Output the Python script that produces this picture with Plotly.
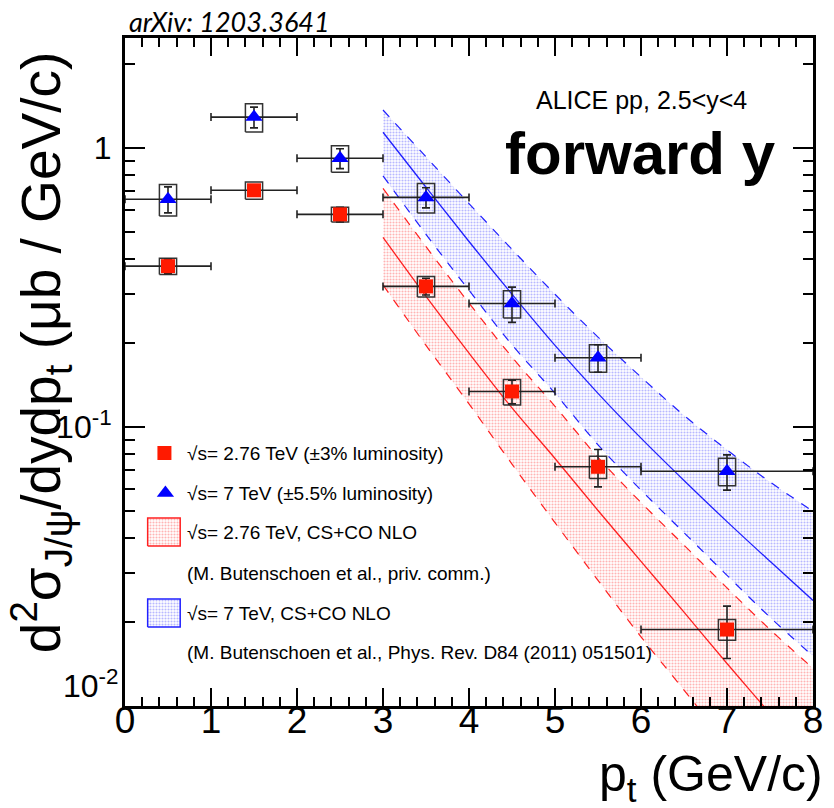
import numpy as np
import plotly.graph_objects as go

# ---------------- data ----------------
pt = [0.5, 1.5, 2.5, 3.5, 4.5, 5.5, 7.0]
pt_halfbin = [0.5, 0.5, 0.5, 0.5, 0.5, 0.5, 1.0]

red_y = [0.377, 0.705, 0.578, 0.319, 0.134, 0.072, 0.0188]
red_stat = [0.022, 0.03, 0.035, 0.022, 0.013, 0.011, 0.004]
red_syst = [0.025, 0.05, 0.035, 0.027, 0.014, 0.0066, 0.0016]

blue_y = [0.655, 1.29, 0.918, 0.665, 0.277, 0.177, 0.0694]
blue_stat = [0.07, 0.11, 0.075, 0.055, 0.04, 0.02, 0.010]
blue_syst = [0.085, 0.15, 0.10, 0.08, 0.031, 0.02, 0.0078]

th_pt = [3.0, 3.5, 4.0, 4.5, 5.0, 5.5, 6.0, 6.5, 7.0, 7.5, 8.0]
red_c = [0.478, 0.294, 0.184, 0.117, 0.0771, 0.0502, 0.0330, 0.0217, 0.0142, 0.0094, 0.0062]
red_hi = [0.716, 0.443, 0.278, 0.178, 0.1186, 0.0778, 0.0536, 0.0377, 0.0265, 0.0188, 0.01365]
red_lo = [0.323, 0.196, 0.121, 0.0736, 0.0454, 0.0282, 0.0177, 0.0114, 0.0073, 0.0047, 0.0031]
blue_c = [1.138, 0.723, 0.462, 0.299, 0.196, 0.132, 0.0912, 0.0643, 0.0458, 0.0330, 0.0239]
blue_hi = [1.368, 0.929, 0.632, 0.433, 0.299, 0.210, 0.151, 0.110, 0.0828, 0.0635, 0.0499]
blue_lo = [0.794, 0.490, 0.309, 0.197, 0.132, 0.0863, 0.0594, 0.0418, 0.0294, 0.0208, 0.0151]

x_ticks = [0, 1, 2, 3, 4, 5, 6, 7, 8]
y_ticks = [0.1, 1]
y_ticktext = ["10<sup>-1</sup>", "1"]

leg_labels = [
    "√s= 2.76 TeV (±3% luminosity)",
    "√s= 7 TeV (±5.5% luminosity)",
    "√s= 2.76 TeV, CS+CO NLO",
    "(M. Butenschoen et al., priv. comm.)",
    "√s= 7 TeV, CS+CO NLO",
    "(M. Butenschoen et al., Phys. Rev. D84 (2011) 051501)",
]

FONT = "Liberation Sans, Arial, sans-serif"
W, H = 834, 808
L, R, T, B = 125, 11, 38, 102
PW, PH = W - L - R, H - T - B

RED_DOT = "rgba(255,40,40,0.7)"
BLUE_DOT = "rgba(50,50,255,0.7)"


def px2paper(px, py):
    return (px - L) / PW, (H - B - py) / PH


fig = go.Figure()

# ---------------- theory bands ----------------
def band(lo, c, hi, col, dotcol):
    fig.add_trace(go.Scatter(x=th_pt, y=lo, mode="lines", line_shape="spline",
                             line=dict(color=col, width=1.2, dash="dash"),
                             showlegend=False, hoverinfo="skip"))
    fig.add_trace(go.Scatter(x=th_pt, y=hi, mode="lines", fill="tonexty", line_shape="spline",
                             fillcolor="rgba(255,255,255,0)",
                             fillpattern=dict(shape=".", fgcolor=dotcol, bgcolor="rgba(255,255,255,0)",
                                              size=3, solidity=0.4),
                             line=dict(color=col, width=1.2, dash="dash"),
                             showlegend=False, hoverinfo="skip"))
    fig.add_trace(go.Scatter(x=th_pt, y=c, mode="lines", line_shape="spline",
                             line=dict(color=col, width=1.3),
                             showlegend=False, hoverinfo="skip"))

band(red_lo, red_c, red_hi, "#ff2020", RED_DOT)
band(blue_lo, blue_c, blue_hi, "#2020ff", BLUE_DOT)

# ---------------- systematic boxes ----------------
BW = 0.1
def boxes(xs, ys, ss):
    bx, by = [], []
    for x, y, s in zip(xs, ys, ss):
        bx += [x - BW, x + BW, x + BW, x - BW, x - BW, None]
        by += [y - s, y - s, y + s, y + s, y - s, None]
    fig.add_trace(go.Scatter(x=bx, y=by, mode="lines",
                             line=dict(color="#333333", width=1.5),
                             showlegend=False, hoverinfo="skip"))

boxes(pt, red_y, red_syst)
boxes(pt, blue_y, blue_syst)

# ---------------- data points ----------------
def points(ys, st, sym, col, size):
    fig.add_trace(go.Scatter(
        x=pt, y=ys, mode="markers",
        marker=dict(symbol=sym, color=col, size=size, line=dict(width=0)),
        error_x=dict(type="data", array=pt_halfbin, color="#222222", thickness=1.6, width=4),
        error_y=dict(type="data", array=st, color="#222222", thickness=1.6, width=4),
        showlegend=False))

points(red_y, red_stat, "square", "#ff1a00", 14)
points(blue_y, blue_stat, "triangle-up", "#0000ff", 15)

# ---------------- manual legend (overlay axes in paper units) ----------------
rows_py = [453, 493, 532, 573, 613, 652]
lx, ly = px2paper(165, rows_py[0])
fig.add_trace(go.Scatter(x=[lx], y=[ly], xaxis="x2", yaxis="y2", mode="markers",
                         marker=dict(symbol="square", color="#ff1a00", size=14),
                         showlegend=False, hoverinfo="skip"))
lx, ly = px2paper(166, rows_py[1])
fig.add_trace(go.Scatter(x=[lx], y=[ly], xaxis="x2", yaxis="y2", mode="markers",
                         marker=dict(symbol="triangle-up", color="#0000ff", size=15),
                         showlegend=False, hoverinfo="skip"))
for row, col, dotcol in ((2, "#ff2020", RED_DOT), (4, "#2020ff", BLUE_DOT)):
    x0, y0 = px2paper(148, rows_py[row] + 14)
    x1, y1 = px2paper(181, rows_py[row] - 14)
    fig.add_trace(go.Scatter(x=[x0, x1, x1, x0, x0], y=[y0, y0, y1, y1, y0],
                             xaxis="x2", yaxis="y2", mode="lines", fill="toself",
                             fillcolor="rgba(255,255,255,0)",
                             fillpattern=dict(shape=".", fgcolor=dotcol, bgcolor="rgba(255,255,255,0)",
                                              size=3, solidity=0.4),
                             line=dict(color=col, width=1.5),
                             showlegend=False, hoverinfo="skip"))

annotations = []
for lab, py in zip(leg_labels, rows_py):
    ax, ay = px2paper(186, py)
    annotations.append(dict(x=ax, y=ay, xref="paper", yref="paper", text=lab,
                            showarrow=False, xanchor="left", yanchor="middle",
                            font=dict(family=FONT, size=19, color="black")))

# header texts
ax, ay = px2paper(127, 21)
annotations.append(dict(x=ax, y=ay, xref="paper", yref="paper", text="<i>arXiv: 1203.3641</i>",
                        showarrow=False, xanchor="left", yanchor="middle",
                        font=dict(family="Lato, Liberation Sans, sans-serif", size=27, color="black")))
ax, ay = px2paper(758, 100)
annotations.append(dict(x=ax, y=ay, xref="paper", yref="paper", text="ALICE pp, 2.5<y<4",
                        showarrow=False, xanchor="right", yanchor="middle",
                        font=dict(family=FONT, size=25, color="black")))
ax, ay = px2paper(787, 153)
annotations.append(dict(x=ax, y=ay, xref="paper", yref="paper", text="<b>forward y</b>",
                        showarrow=False, xanchor="right", yanchor="middle",
                        font=dict(family=FONT, size=60, color="black")))
# bottom y label (shifted up as in the reference)
ax, ay = px2paper(121, 684)
annotations.append(dict(x=ax, y=ay, xref="paper", yref="paper",
                        text="10<sup>-2</sup>", showarrow=False,
                        xanchor="right", yanchor="middle",
                        font=dict(family=FONT, size=32, color="black")))
# axis titles
ax, ay = px2paper(835, 777)
annotations.append(dict(x=ax, y=ay, xref="paper", yref="paper",
                        text="p<sub>t</sub> (GeV/c)", showarrow=False,
                        xanchor="right", yanchor="middle",
                        font=dict(family=FONT, size=50, color="black")))
ax, ay = px2paper(40, 352)
annotations.append(dict(x=ax, y=ay, xref="paper", yref="paper",
                        text="d<sup>2</sup>σ<sub>J/ψ</sub>/dydp<sub>t</sub> (μb / GeV/c)",
                        showarrow=False, textangle=-90,
                        xanchor="center", yanchor="middle",
                        font=dict(family=FONT, size=55, color="black")))

fig.update_layout(
    width=W, height=H,
    margin=dict(l=L, r=R, t=T, b=B),
    paper_bgcolor="white", plot_bgcolor="white",
    showlegend=False,
    annotations=annotations,
    xaxis=dict(range=[0, 8], showgrid=False, zeroline=False,
               showline=True, linecolor="black", linewidth=3, mirror="allticks",
               ticks="inside", ticklen=18, tickwidth=1.5, tickcolor="black",
               tickvals=x_ticks, ticktext=[str(v) for v in x_ticks],
               tickfont=dict(family=FONT, size=37, color="black"),
               ticklabelstandoff=-20,
               minor=dict(dtick=0.2, tick0=0, ticks="inside", ticklen=9,
                          tickwidth=1.5, tickcolor="black", showgrid=False)),
    yaxis=dict(type="log", range=[-2, 0.394], showgrid=False, zeroline=False,
               showline=True, linecolor="black", linewidth=3, mirror="allticks",
               ticks="inside", ticklen=20, tickwidth=1.5, tickcolor="black",
               tickvals=y_ticks, ticktext=y_ticktext,
               tickfont=dict(family=FONT, size=32, color="black"),
               ticklabelstandoff=4,
               minor=dict(dtick="D1", ticks="inside", ticklen=10,
                          tickwidth=1.5, tickcolor="black", showgrid=False)),
    xaxis2=dict(overlaying="x", range=[0, 1], visible=False),
    yaxis2=dict(overlaying="y", range=[0, 1], visible=False),
)

fig.write_html("out.html")
